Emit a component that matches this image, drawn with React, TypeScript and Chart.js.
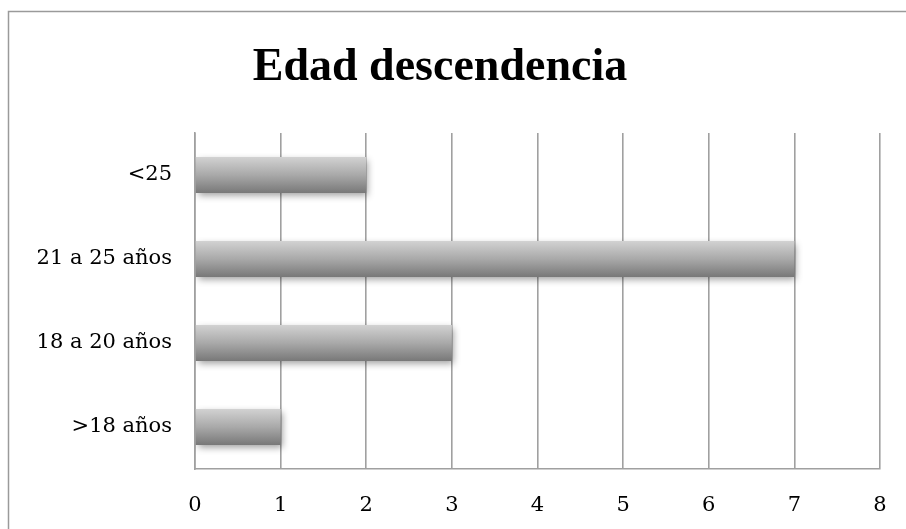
import React, { useEffect, useRef } from "react";
import { Chart, registerables } from "chart.js";

Chart.register(...registerables);

const categories = ["<25", "21 a 25 años", "18 a 20 años", ">18 años"];
const values = [2, 7, 3, 1];
const titleText = "Edad descendencia";
const xMin = 0;
const xMax = 8;

const TITLE_FONT = "'Liberation Serif', 'Times New Roman', serif";
const FONT = "'DejaVu Serif', 'Liberation Serif', serif";
const GRID = "#a0a0a0";

const framePlugin = {
  id: "frame",
  beforeDraw(chart: any) {
    const ctx = chart.ctx;
    ctx.save();
    ctx.fillStyle = "#ffffff";
    ctx.fillRect(0, 0, chart.width, chart.height);
    ctx.strokeStyle = "#9a9a9a";
    ctx.lineWidth = 1.5;
    ctx.strokeRect(8.5, 11.5, 1200, 1200);
    ctx.restore();
  },
};

const shadowPlugin = {
  id: "barShadow",
  beforeDatasetsDraw(chart: any) {
    const ctx = chart.ctx;
    ctx.save();
    ctx.shadowColor = "rgba(0,0,0,0.38)";
    ctx.shadowBlur = 7;
    ctx.shadowOffsetX = 2;
    ctx.shadowOffsetY = 3;
  },
  afterDatasetsDraw(chart: any) {
    chart.ctx.restore();
  },
};

export default function App() {
  const ref = useRef<HTMLCanvasElement | null>(null);

  useEffect(() => {
    if (!ref.current) return;
    const chart = new Chart(ref.current, {
      type: "bar",
      data: {
        labels: categories,
        datasets: [
          {
            data: values,
            backgroundColor: (c: any) => {
              const ch = c.chart;
              const ys = ch.scales && ch.scales.y;
              if (!ch.chartArea || !ys) return "#a8a8a8";
              const y = ys.getPixelForValue(c.dataIndex);
              const g = ch.ctx.createLinearGradient(0, y - 18, 0, y + 18);
              g.addColorStop(0, "#d2d2d2");
              g.addColorStop(0.5, "#a9a9a9");
              g.addColorStop(1, "#787878");
              return g;
            },
            borderWidth: 0,
            categoryPercentage: 1,
            barPercentage: 0.43,
          },
        ],
      },
      options: {
        indexAxis: "y",
        animation: false,
        responsive: true,
        maintainAspectRatio: false,
        layout: { padding: { left: 0, right: 26, top: 0, bottom: 0 } },
        plugins: {
          legend: { display: false },
          tooltip: { enabled: false },
          title: {
            display: true,
            text: titleText,
            color: "#000000",
            font: { family: TITLE_FONT, size: 46, weight: "bold", lineHeight: 1.2 },
            padding: { top: 41, bottom: 36.8 },
          },
        },
        scales: {
          x: {
            min: xMin,
            max: xMax,
            ticks: {
              stepSize: 1,
              color: "#000000",
              font: { family: FONT, size: 21 },
              padding: 24,
            },
            grid: { color: GRID, lineWidth: 1.6, drawTicks: false },
            border: { display: true, color: GRID, width: 1.6 },
            afterFit(scale: any) {
              scale.height = 60;
              scale.paddingLeft = 0;
              scale.paddingRight = 0;
            },
          },
          y: {
            ticks: {
              color: "#000000",
              font: { family: FONT, size: 21 },
              padding: 23,
            },
            grid: { display: false, drawTicks: false },
            border: { display: true, color: GRID, width: 1.6 },
            afterFit(scale: any) {
              scale.width = 195;
              scale.paddingTop = 0;
              scale.paddingBottom = 0;
            },
          },
        },
      },
      plugins: [framePlugin, shadowPlugin],
    });
    return () => chart.destroy();
  }, []);

  return (
    <div style={{ position: "fixed", left: 0, top: 0, width: 906, height: 529, background: "#fff" }}>
      <canvas ref={ref} />
    </div>
  );
}
